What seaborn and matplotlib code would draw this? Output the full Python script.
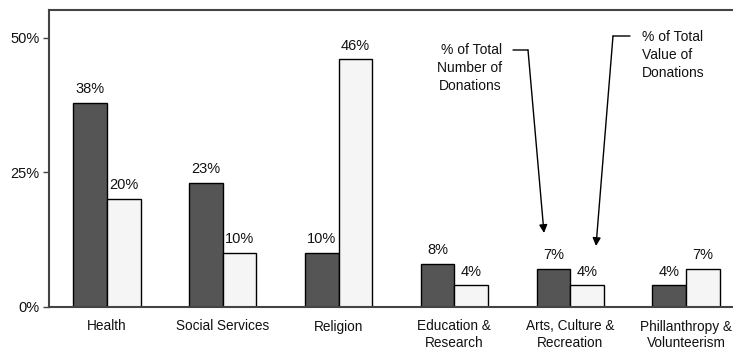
import matplotlib
matplotlib.use("Agg")
import matplotlib.pyplot as plt
import seaborn as sns
import pandas as pd
import numpy as np

categories = ["Health", "Social Services", "Religion", "Education &\nResearch",
              "Arts, Culture &\nRecreation", "Phillanthropy &\nVolunteerism"]
pct_number = [38, 23, 10, 8, 7, 4]
pct_value = [20, 10, 46, 4, 4, 7]
series = ["% of Total Number of Donations", "% of Total Value of Donations"]
yticks = [0, 25, 50]

sns.set_theme(style="white")
plt.rcParams['font.family'] = ['Liberation Sans', 'DejaVu Sans']

df = pd.DataFrame({
    "category": categories * 2,
    "series": [series[0]] * len(categories) + [series[1]] * len(categories),
    "value": pct_number + pct_value,
})

W, H = 733, 349
fig = plt.figure(figsize=(W / 100, H / 100), dpi=100)
ax = fig.add_axes([49 / W, 42 / H, 695 / W, 297 / H])

sns.barplot(data=df, x="category", y="value", hue="series", order=categories,
            hue_order=series, palette=["#555555", "#f5f5f5"], width=0.58,
            edgecolor="black", linewidth=1.0, ax=ax, legend=False, errorbar=None)

for cont in ax.containers:
    ax.bar_label(cont, labels=[f"{v:.0f}%" for v in cont.datavalues],
                 padding=5, fontsize=10.5, color="#111111")

ax.set_xlim(-0.5, 5.5)
ax.set_ylim(0, 55.2)
ax.set_yticks(yticks)
ax.set_yticklabels([f"{t}%" for t in yticks], fontsize=10.5, color="#111111")
ax.set_xticks(range(len(categories)))
ax.set_xticklabels(categories, fontsize=9.8, color="#111111", linespacing=1.2)
ax.tick_params(axis="x", which="major", length=0, pad=9)
ax.set_xticks(np.arange(0.5, len(categories) - 0.5, 1.0), minor=True)
ax.tick_params(axis="x", which="minor", length=4, width=1, color="#444444", direction="out")
ax.tick_params(axis="y", length=4, width=1, color="#444444", direction="out", pad=3, left=True)
ax.set_xlabel("")
ax.set_ylabel("")

for s in ["left", "bottom", "top"]:
    ax.spines[s].set_visible(True)
    ax.spines[s].set_color("#444444")
    ax.spines[s].set_linewidth(1.5)
ax.spines["right"].set_visible(False)

# annotations
fig.text(502 / W, (H - 68) / H, "% of Total\nNumber of\nDonations", ha="right", va="center",
         fontsize=10, linespacing=1.4, color="#111111")
fig.text(642 / W, (H - 55) / H, "% of Total\nValue of\nDonations", ha="left", va="center",
         fontsize=10, linespacing=1.4, color="#111111")

for (x0, y0), (x1, y1), (xt, yt) in [((513, 50), (528, 50), (544, 233)),
                                     ((630, 36), (613, 36), (596, 246))]:
    ax.annotate("", xy=(x1, H - y1), xytext=(x0, H - y0), xycoords="figure pixels",
                textcoords="figure pixels",
                arrowprops=dict(arrowstyle="-", color="black", lw=1, shrinkA=0, shrinkB=0))
    ax.annotate("", xy=(xt, H - yt), xytext=(x1, H - y1), xycoords="figure pixels",
                textcoords="figure pixels",
                arrowprops=dict(arrowstyle="-|>", color="black", lw=1, shrinkA=0, shrinkB=0,
                                mutation_scale=12))

fig.savefig("out.png", dpi=100)
